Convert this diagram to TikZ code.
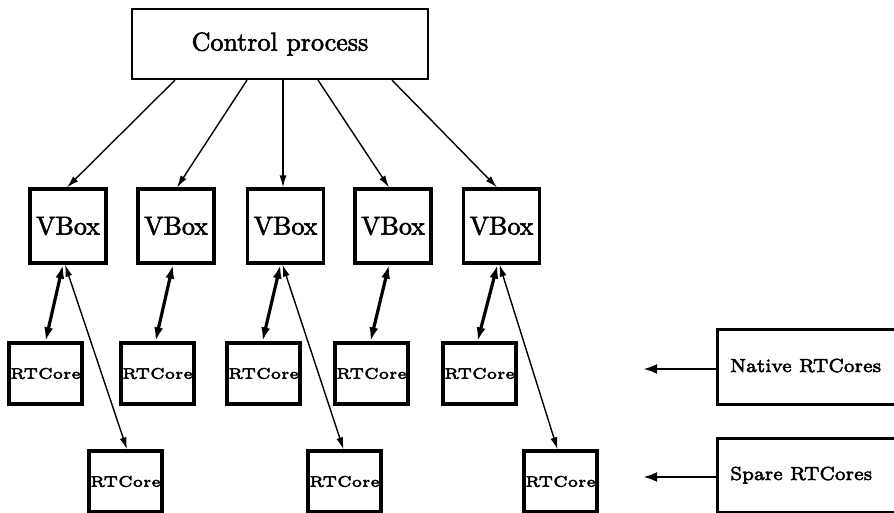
\documentclass[tikz,border=0pt]{standalone}
\usetikzlibrary{arrows.meta}

\tikzset{
  ctrlbox/.style={draw, line width=2.2pt, inner sep=0pt, minimum width=296pt, minimum height=70pt},
  vbox/.style={draw, line width=3.2pt, inner sep=0pt, minimum width=76pt, minimum height=74pt},
  corebox/.style={draw, line width=3.3pt, inner sep=0pt, minimum width=73pt, minimum height=61pt},
  legendbox/.style={draw, line width=3pt, inner sep=0pt, anchor=north west},
  legendtext/.style={inner sep=0pt, anchor=base west},
  feed/.style={line width=1.4pt, -{Latex[length=12pt,width=7pt]}},
  nativelink/.style={line width=3.2pt, {Latex[length=14pt,width=9pt]}-{Latex[length=14pt,width=9pt]}},
  sparelink/.style={line width=1.4pt, {Latex[length=12pt,width=7pt]}-{Latex[length=12pt,width=7pt]}},
  legendarrow/.style={line width=2.8pt, -{Latex[length=14pt,width=10pt]}},
}
% glyphs filled and also stroked, for a slightly heavier print
\newcommand{\heavy}[2]{\special{pdf:literal direct 2 Tr #1 w}#2\special{pdf:literal direct 0 Tr}}
\newcommand{\biglabel}[1]{\scalebox{2.6}{\fontsize{10}{12}\selectfont\heavy{0.22}{#1}}}
\newcommand{\corelabel}{\scalebox{3.05}{\fontsize{5}{6}\selectfont\heavy{0.17}{RTCore}}}
\newcommand{\legendlabel}[1]{\scalebox{2.7}{\fontsize{7}{8}\selectfont\heavy{0.2}{#1}}}

\begin{document}
\begin{tikzpicture}[x=1pt,y=-1pt]
  \useasboundingbox (0,0) rectangle (894,513);
  \clip (0,0) rectangle (894,513);

  % control process
  \node[ctrlbox] (ctrl) at (280,44) {\biglabel{Control process}};

  % VBoxes
  \node[vbox] (v1) at (68,226)    {\biglabel{VBox}};
  \node[vbox] (v2) at (176,226)   {\biglabel{VBox}};
  \node[vbox] (v3) at (285.5,226) {\biglabel{VBox}};
  \node[vbox] (v4) at (393,226)   {\biglabel{VBox}};
  \node[vbox] (v5) at (501.5,226) {\biglabel{VBox}};

  % native RTCores
  \node[corebox] (n1) at (45.5,373.5)  {\corelabel};
  \node[corebox] (n2) at (157.5,373.5) {\corelabel};
  \node[corebox] (n3) at (263.5,373.5) {\corelabel};
  \node[corebox] (n4) at (371.5,373.5) {\corelabel};
  \node[corebox] (n5) at (479.5,373.5) {\corelabel};

  % spare RTCores
  \node[corebox] (s1) at (125.5,481.5) {\corelabel};
  \node[corebox] (s2) at (344.5,481.5) {\corelabel};
  \node[corebox] (s3) at (560.5,481.5) {\corelabel};

  % legend boxes
  \node[legendbox, minimum width=190pt, minimum height=75pt] (ln) at (716,328) {};
  \node[legendtext] (lnt) at (730,372) {\legendlabel{Native RTCores}};
  \node[legendbox, minimum width=190pt, minimum height=74pt] (ls) at (716,437) {};
  \node[legendtext] (lst) at (730,480) {\legendlabel{Spare RTCores}};
  \coordinate (lnend) at (643,369);
  \coordinate (lsend) at (643,477);
  \draw[legendarrow] (ln.west |- lnend) -- (lnend);
  \draw[legendarrow] (ls.west |- lsend) -- (lsend);

  % control process to VBoxes
  \draw[feed] ([xshift=-105pt]ctrl.south) -- ([xshift=-1pt]v1.north);
  \draw[feed] ([xshift=-33pt]ctrl.south)  -- ([xshift=1pt]v2.north);
  \draw[feed] ([xshift=3pt]ctrl.south)    -- ([xshift=-2.5pt]v3.north);
  \draw[feed] ([xshift=38pt]ctrl.south)   -- ([xshift=-4pt]v4.north);
  \draw[feed] ([xshift=112pt]ctrl.south)  -- ([xshift=-4.5pt]v5.north);

  % VBoxes to native RTCores
  \draw[nativelink] ([xshift=-5pt]v1.south) -- (n1.north);
  \draw[nativelink] ([xshift=-3pt]v2.south) -- ([xshift=-2pt]n2.north);
  \draw[nativelink] ([xshift=-5pt]v3.south) -- ([xshift=-1pt]n3.north);
  \draw[nativelink] ([xshift=-4pt]v4.south) -- ([xshift=-1pt]n4.north);
  \draw[nativelink] ([xshift=-4pt]v5.south) -- ([xshift=-2pt]n5.north);

  % VBoxes to spare RTCores
  \draw[sparelink] ([xshift=-3pt]v1.south) -- ([xshift=1.5pt]s1.north);
  \draw[sparelink] ([xshift=-3pt]v3.south) -- ([xshift=-1pt]s2.north);
  \draw[sparelink] ([xshift=-2pt]v5.south) -- ([xshift=-3pt]s3.north);
\end{tikzpicture}
\end{document}
